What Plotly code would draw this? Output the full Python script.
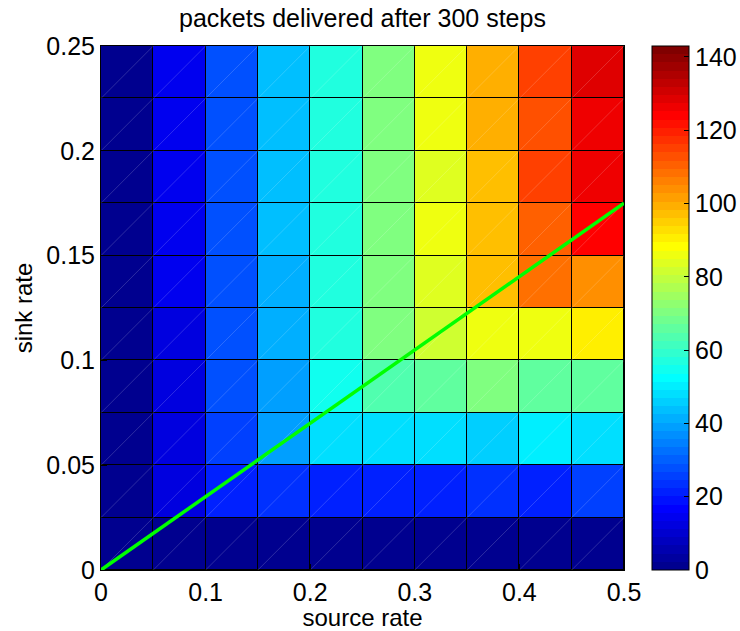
import plotly.graph_objects as go

# Cell edges of the pcolor grid
source_edges = [0.0, 0.05, 0.10, 0.15, 0.20, 0.25, 0.30, 0.35, 0.40, 0.45, 0.50]
sink_edges = [0.0, 0.025, 0.05, 0.075, 0.10, 0.125, 0.15, 0.175, 0.20, 0.225, 0.25]

# Packets delivered after 300 steps; one row per sink-rate band (bottom to top),
# one column per source-rate band (left to right)
packets = [
    [1.1, 1.1, 1.1, 1.1, 1.1, 1.1, 1.1, 1.1, 1.1, 1.1],
    [1.1, 12.3, 21.2, 23.5, 21.2, 22.0, 21.2, 23.5, 21.2, 25.7],
    [1.1, 12.3, 25.7, 39.1, 48.0, 48.0, 48.0, 45.8, 50.3, 48.0],
    [1.1, 12.3, 27.9, 39.1, 54.7, 63.7, 65.9, 70.4, 65.9, 65.9],
    [1.1, 12.3, 27.9, 41.3, 57.0, 70.4, 81.6, 86.0, 86.0, 90.5],
    [1.1, 14.5, 27.9, 41.3, 57.0, 70.4, 83.8, 97.2, 108.4, 103.9],
    [1.1, 14.5, 27.9, 43.6, 57.0, 70.4, 86.0, 97.2, 110.6, 124.0],
    [1.1, 14.5, 27.9, 43.6, 57.0, 70.4, 83.8, 97.2, 115.1, 126.2],
    [1.1, 14.5, 27.9, 43.6, 57.0, 70.4, 86.0, 99.4, 112.8, 126.2],
    [1.1, 14.5, 27.9, 43.6, 57.0, 70.4, 86.0, 99.4, 115.1, 128.5],
]
color_min, color_max = 0, 143

# Reference line sink = 0.35 * source
line_source = [0.0, 0.5]
line_sink = [0.0, 0.175]

x_ticks = [0, 0.1, 0.2, 0.3, 0.4, 0.5]
y_ticks = [0, 0.05, 0.1, 0.15, 0.2, 0.25]
cbar_ticks = [0, 20, 40, 60, 80, 100, 120, 140]


def jet(m=64):
    """MATLAB-style jet colormap with m entries."""
    n = -(-m // 4)
    u = [i / n for i in range(1, n + 1)] + [1.0] * (n - 1) + [i / n for i in range(n, 0, -1)]
    off = -(-n // 2) - (1 if m % 4 == 1 else 0)
    g = [off + i for i in range(1, len(u) + 1)]
    r = [k + n for k in g]
    b = [k - n for k in g]
    g = [k for k in g if k <= m]
    r = [k for k in r if k <= m]
    b = [k for k in b if k >= 1]
    J = [[0.0, 0.0, 0.0] for _ in range(m)]
    for i, k in enumerate(r):
        J[k - 1][0] = u[i]
    for i, k in enumerate(g):
        J[k - 1][1] = u[i]
    for i, k in enumerate(b):
        J[k - 1][2] = u[len(u) - len(b) + i]
    return J


cmap = jet(64)
colorscale = []
for i, (r, g, b) in enumerate(cmap):
    c = f"rgb({round(r * 255)},{round(g * 255)},{round(b * 255)})"
    colorscale.append([i / 64, c])
    colorscale.append([(i + 1) / 64, c])

font_family = "Liberation Sans, Arial, Helvetica, sans-serif"

fig = go.Figure()

fig.add_trace(go.Heatmap(
    x=source_edges,
    y=sink_edges,
    z=packets,
    zmin=color_min,
    zmax=color_max,
    colorscale=colorscale,
    xgap=1,
    ygap=1,
    hoverinfo="skip",
    colorbar=dict(
        x=1.0535, xanchor="left", xpad=0,
        y=0.5, yanchor="middle", ypad=0,
        len=1, lenmode="fraction",
        thickness=37, thicknessmode="pixels",
        outlinecolor="black", outlinewidth=1,
        tickmode="array", tickvals=cbar_ticks,
        ticks="inside", ticklen=5, tickcolor="black",
        tickfont=dict(family=font_family, size=25, color="black"),
    ),
))

# Faint triangle seams of each patch (lower-left to upper-right)
seam_x, seam_y = [], []
for i in range(len(source_edges) - 1):
    for j in range(len(sink_edges) - 1):
        seam_x += [source_edges[i], source_edges[i + 1], None]
        seam_y += [sink_edges[j], sink_edges[j + 1], None]
fig.add_trace(go.Scatter(
    x=seam_x, y=seam_y, mode="lines",
    line=dict(color="rgba(255,255,255,0.22)", width=0.8),
    hoverinfo="skip", showlegend=False,
))

fig.add_trace(go.Scatter(
    x=line_source, y=line_sink, mode="lines",
    line=dict(color="#00ff00", width=3.5),
    hoverinfo="skip", showlegend=False,
))

axis_common = dict(
    showgrid=False, zeroline=False,
    showline=True, linecolor="black", linewidth=1, mirror=True,
    ticks="inside", ticklen=6, tickcolor="black", tickwidth=1,
    tickfont=dict(family=font_family, size=25, color="black"),
    layer="above traces",
)

fig.update_layout(
    width=740, height=631,
    margin=dict(l=101, r=116, t=46, b=61, autoexpand=False),
    paper_bgcolor="white",
    plot_bgcolor="black",
    showlegend=False,
    title=dict(
        text="packets delivered after 300 steps",
        x=0.5, xref="paper", xanchor="center",
        y=1 - 18 / 631, yref="container", yanchor="middle",
        font=dict(family=font_family, size=25, color="black"),
    ),
    xaxis=dict(
        range=[0, 0.5], tickmode="array", tickvals=x_ticks,
        ticktext=["0", "0.1", "0.2", "0.3", "0.4", "0.5"],
        title=dict(text="source rate", standoff=0,
                   font=dict(family=font_family, size=24, color="black")),
        **axis_common,
    ),
    yaxis=dict(
        range=[0, 0.25], tickmode="array", tickvals=y_ticks,
        ticktext=["0", "0.05", "0.1", "0.15", "0.2", "0.25"],
        title=dict(text="sink rate", standoff=6,
                   font=dict(family=font_family, size=24, color="black")),
        **axis_common,
    ),
)

fig.write_html("out.html")
